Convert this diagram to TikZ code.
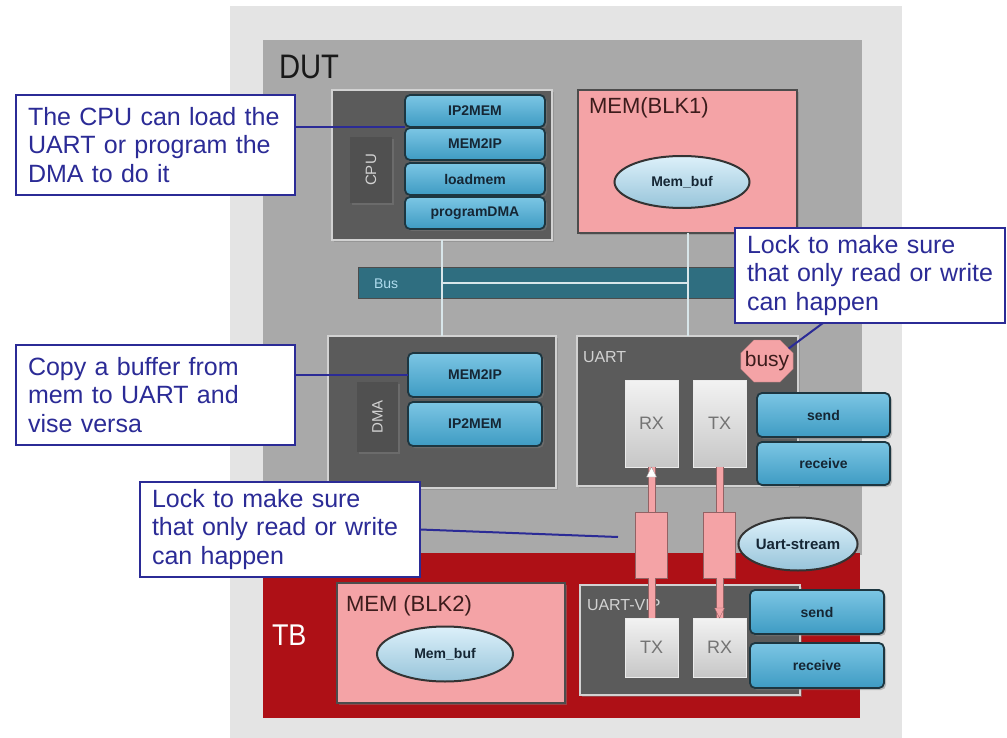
\documentclass[tikz,border=0pt]{standalone}
\usepackage{fontspec}
\setmainfont{Liberation Sans}
\usetikzlibrary{arrows.meta, positioning, shapes.geometric, shapes.misc, shadows}

\definecolor{fondclair}{HTML}{E4E4E4}
\definecolor{gris}{HTML}{A9A9A9}
\definecolor{sombre}{HTML}{5B5B5B}
\definecolor{etiquette}{HTML}{505050}
\definecolor{bordclair}{HTML}{D2D2D2}
\definecolor{lienclair}{HTML}{D8E6EA}
\definecolor{bleuclair}{HTML}{7CC6E4}
\definecolor{bleu}{HTML}{3E9BC3}
\definecolor{bordbleu}{HTML}{1D3640}
\definecolor{textebleu}{HTML}{152634}
\definecolor{bus}{HTML}{2F6E80}
\definecolor{rose}{HTML}{F4A3A6}
\definecolor{rouge}{HTML}{AE1016}
\definecolor{brunfonce}{HTML}{3C1C1C}
\definecolor{marine}{HTML}{2B2B96}
\definecolor{ciel}{HTML}{A8DAF2}

\begin{document}
\begin{tikzpicture}[
    x=1pt, y=-1pt,
    every node/.style={inner sep=0pt, outer sep=0pt, anchor=north west},
    ombre/.style={drop shadow={shadow xshift=2pt, shadow yshift=-2pt, opacity=0.45}},
    bloc/.style={draw=bordclair, line width=1.5pt, fill=sombre, ombre},
    souscase/.style={fill=etiquette, ombre, text=bordclair, font=\fontsize{15}{15}\selectfont},
    bouton/.style={draw=bordbleu, line width=1.8pt, rounded corners=5pt, top color=bleuclair, bottom color=bleu, text=textebleu, font=\bfseries\fontsize{14}{14}\selectfont, minimum height=32pt, ombre},
    memoire/.style={draw=black!70, line width=1.5pt, fill=rose, ombre},
    tampon/.style={ellipse, anchor=center, draw=black!80, line width=2pt, top color=ciel!40!white, bottom color=ciel!90!black, text=textebleu, font=\bfseries\fontsize{14}{14}\selectfont},
    voie/.style={draw=white!92!black, line width=1pt, top color=white!95!black, bottom color=white!78!black, text=black!55, font=\fontsize{18}{18}\selectfont, minimum width=53pt, minimum height=87pt},
    titre/.style={anchor=west, text=bordclair, font=\fontsize{16}{16}\selectfont},
    bulle/.style={draw=marine, line width=2pt, fill=white, text=marine, align=left, text width=255pt, inner xsep=12pt, font=\fontsize{25}{28.5}\selectfont},
    lien/.style={draw=marine, line width=2pt},
    liaison/.style={draw=lienclair, line width=2pt},
    tube/.style={draw=rose!60!black, line width=1pt, double=rose, double distance=6pt},
    reservoir/.style={draw=rose!60!black, line width=1pt, fill=rose, anchor=center, minimum width=32pt, minimum height=66pt},
    ]
\useasboundingbox (0,0) rectangle (1007,738);

% Fonds
\node[fill=fondclair, minimum width=672pt, minimum height=732pt] (fond) at (230,6) {};
\node[fill=gris, minimum width=599pt, minimum height=515pt] (dut) at (263,40) {};
\node[fill=rouge, minimum width=597pt, minimum height=165pt] (tb) at (263,553) {};
\node[anchor=west, text=black!90, font=\fontsize{34}{34}\selectfont] (duttitre) at (279,67) {\scalebox{0.86}[1]{DUT}};
\node[anchor=west, text=white, font=\fontsize{30}{30}\selectfont] (tbtitre) at (272,635) {\scalebox{0.9}[1]{TB}};

% CPU
\node[bloc, minimum width=220pt, minimum height=150pt] (cpu) at (332,90) {};
\node[souscase, minimum width=42pt, minimum height=66pt] (cpunom) at (350,137) {\rotatebox{90}{CPU}};
\node[bouton, minimum width=140pt] (ip2mem) at (405,95) {IP2MEM};
\node[bouton, minimum width=140pt, below=1pt of ip2mem] (mem2ip) {MEM2IP};
\node[bouton, minimum width=140pt, below=3pt of mem2ip] (loadmem) {loadmem};
\node[bouton, minimum width=140pt, below=2pt of loadmem] (programdma) {programDMA};

% Memoire BLK1
\node[memoire, minimum width=219pt, minimum height=143pt] (memun) at (578,90) {};
\node[anchor=west, text=brunfonce, font=\fontsize{22}{22}\selectfont] (memuntitre) at (589,108) {MEM(BLK1)};
\node[tampon, minimum width=135pt, minimum height=52pt] (tampon1) at (682,182) {Mem\_buf};

% Bus
\node[fill=bus, draw=black!70, line width=1pt, minimum width=500pt, minimum height=30pt] (bus) at (358,268) {};
\node[anchor=west, text=bleuclair!60!white, font=\fontsize{14}{14}\selectfont] (bustitre) at (374,284) {Bus};

% DMA
\node[bloc, minimum width=228pt, minimum height=152pt] (dma) at (328,336) {};
\node[souscase, minimum width=41pt, minimum height=70pt] (dmanom) at (357,382) {\rotatebox{90}{DMA}};
\node[bouton, minimum width=134pt, minimum height=44pt] (dmamem2ip) at (408,353) {MEM2IP};
\node[bouton, minimum width=134pt, minimum height=44pt, below=5pt of dmamem2ip] (dmaip2mem) {IP2MEM};

% UART
\node[bloc, minimum width=221pt, minimum height=150pt] (uart) at (577,336) {};
\node[titre] (uarttitre) at (583,357) {UART};
\node[voie] (rxu) at (625,380) {RX};
\node[voie, right=15pt of rxu] (txu) {TX};
\node[chamfered rectangle, chamfered rectangle xsep=4pt, chamfered rectangle ysep=9pt, anchor=center, fill=rose, draw=rose!75!black, text=brunfonce, font=\fontsize{21}{21}\selectfont, minimum width=50pt, minimum height=42pt] (busy) at (767,361) {busy};
\node[bouton, minimum width=133pt, minimum height=44pt] (envoiu) at (757,393) {send};
\node[bouton, minimum width=133pt, minimum height=43pt, below=5pt of envoiu] (receptu) {receive};

% Liaisons du bus
\draw[liaison] (cpu.south) -- (dma.north);
\draw[liaison] (memun.south) -- (uart.north);
\draw[liaison] (cpu.south |- bus.center) -- (memun.south |- bus.center);

% Banc de test
\node[memoire, minimum width=228pt, minimum height=120pt] (memdeux) at (337,583) {};
\node[anchor=west, text=brunfonce, font=\fontsize{22}{22}\selectfont] (memdeuxtitre) at (346,606) {MEM (BLK2)};
\node[tampon, minimum width=136pt, minimum height=55pt] (tampon2) at (445,654) {Mem\_buf};

\node[bloc, minimum width=220pt, minimum height=110pt] (vip) at (580,585) {};
\node[titre] (viptitre) at (587,605) {UART-VIP};
\node[voie, minimum height=59pt] (txv) at (625,618) {TX};
\node[voie, minimum height=59pt, right=15pt of txv] (rxv) {RX};
\node[bouton, minimum width=134pt, minimum height=44pt] (envoiv) at (750,590) {send};
\node[bouton, minimum width=134pt, minimum height=45pt, below=9pt of envoiv] (receptv) {receive};

% Flux
\node[reservoir] (verroug) at (651.5,545) {};
\node[reservoir] (verroud) at (719.5,545) {};
\draw[tube] (verroug.north) -- (rxu.south);
\draw[tube] (verroug.south) -- (txv.north);
\draw[tube] (verroud.north) -- (txu.south);
\draw[tube] (verroud.south) -- (rxv.north);
\filldraw[fill=white, draw=black!40] (rxu.south) -- ++(-5,10) -- ++(10,0) -- cycle;
\filldraw[fill=rose, draw=rose!60!black] (rxv.north) -- ++(-5,-10) -- ++(10,0) -- cycle;
\node[tampon, minimum width=117pt, minimum height=53pt, font=\bfseries\fontsize{15}{15}\selectfont] (flux) at (798,544) {Uart-stream};

% Bulles
\node[bulle, minimum height=100pt] (notecpu) at (16,95) {The CPU can load the\\UART or program the\\DMA to do it};
\node[bulle, minimum height=100pt] (notedma) at (16,345) {Copy a buffer from\\mem to UART and\\vise versa};
\node[bulle, text width=256pt, minimum height=95pt] (noteverrou) at (140,482) {Lock to make sure\\that only read or write\\can happen};
\node[bulle, text width=246pt, minimum height=95pt] (notebusy) at (735,228) {Lock to make sure\\that only read or write\\can happen};

\coordinate (boutverrou) at (618,537);
\coordinate (piedbulle) at (823,323);
\draw[lien] (notecpu.east |- ip2mem.south west) -- (ip2mem.south west);
\draw[lien] (notedma.east |- dmamem2ip.west) -- (dmamem2ip.west);
\draw[lien] (noteverrou.east) -- (boutverrou);
\draw[lien] (piedbulle) -- (busy.30);

\end{tikzpicture}
\end{document}
